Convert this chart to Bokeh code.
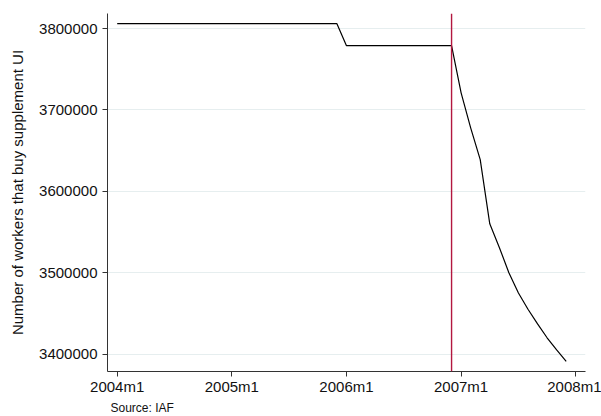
from bokeh.plotting import figure
from bokeh.models import FixedTicker, BasicTickFormatter, Span, Title, Range1d
from bokeh.embed import file_html
from bokeh.resources import INLINE

# monthly series, 2004m1 .. 2007m12
months = list(range(48))
workers_2004 = [3806000, 3806000, 3806000, 3806000, 3806000, 3806000,
                3806000, 3806000, 3806000, 3806000, 3806000, 3806000]
workers_2005 = [3806000, 3806000, 3806000, 3806000, 3806000, 3806000,
                3806000, 3806000, 3806000, 3806000, 3806000, 3806000]
workers_2006 = [3779000, 3779000, 3779000, 3779000, 3779000, 3779000,
                3779000, 3779000, 3779000, 3779000, 3779000, 3779000]
workers_2007 = [3721000, 3678000, 3639000, 3560000, 3531000, 3500000,
                3475000, 3455000, 3437000, 3420000, 3405000, 3391000]
workers = workers_2004 + workers_2005 + workers_2006 + workers_2007

x_ticks = [0, 12, 24, 36, 48]
x_tick_labels = ["2004m1", "2005m1", "2006m1", "2007m1", "2008m1"]
y_ticks = [3400000, 3500000, 3600000, 3700000, 3800000]
reform_month = 35  # 2006m12

FONT = "Liberation Sans"

p = figure(width=601, height=416, output_backend="svg", toolbar_location=None,
           x_range=Range1d(-1.015, 49.02), y_range=Range1d(3378540, 3818500),
           min_border_left=107, min_border_right=16, min_border_top=13,
           min_border_bottom=40)
p.outline_line_color = None
p.background_fill_color = "white"

p.line(months, workers, line_color="black", line_width=1.2)

p.add_layout(Span(location=reform_month, dimension="height",
                  line_color="#b3173f", line_width=1.4))

p.xaxis.ticker = FixedTicker(ticks=x_ticks)
p.xaxis.major_label_overrides = dict(zip(x_ticks, x_tick_labels))
p.yaxis.ticker = FixedTicker(ticks=y_ticks)
p.yaxis.formatter = BasicTickFormatter(use_scientific=False)
p.yaxis.axis_label = "Number of workers that buy supplement UI"

for ax in (p.xaxis, p.yaxis):
    ax.axis_line_color = "#333333"
    ax.major_tick_line_color = "#333333"
    ax.major_tick_out = 5
    ax.major_tick_in = 0
    ax.minor_tick_line_color = None
    ax.major_label_text_font = FONT
    ax.major_label_text_font_size = "15px"
    ax.major_label_text_color = "#111111"
    ax.axis_label_text_font = FONT
    ax.axis_label_text_font_size = "15px"
    ax.axis_label_text_font_style = "normal"
    ax.axis_label_text_color = "#111111"

p.xaxis.major_label_standoff = 1
p.yaxis.major_label_standoff = 5
p.yaxis.axis_label_standoff = 10

p.xgrid.grid_line_color = None
p.ygrid.grid_line_color = "#e6eeef"
p.ygrid.grid_line_width = 1

# source note under the x axis
p.add_layout(Title(text="Source: IAF", align="left", text_font=FONT,
                   text_font_size="12px", text_font_style="normal",
                   text_color="#111111", offset=3, standoff=3), "below")

open("out.html", "w").write(file_html(p, INLINE))
